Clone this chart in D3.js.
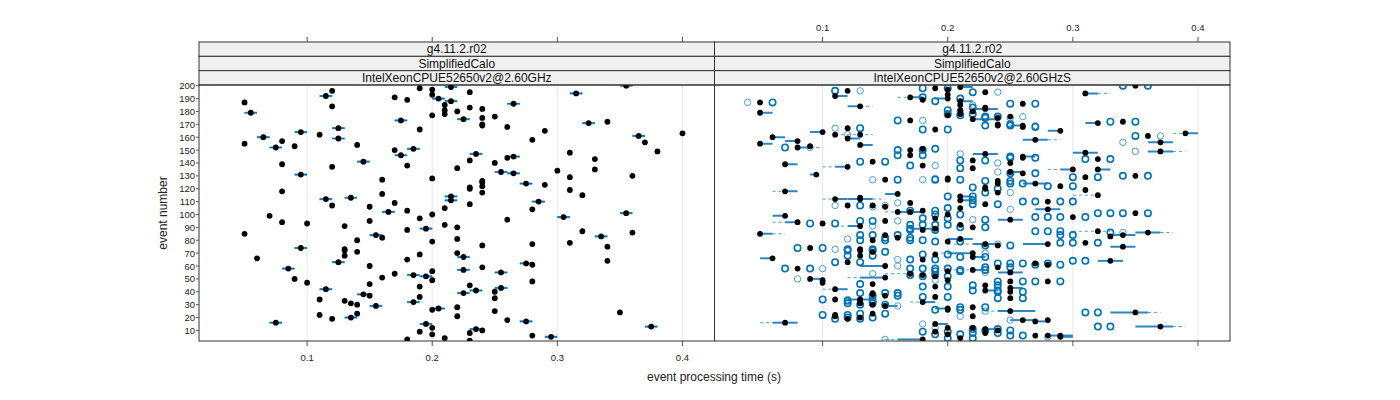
<!DOCTYPE html>
<html>
<head>
<meta charset="utf-8">
<script src="https://cdn.jsdelivr.net/npm/d3@7"></script>
<style>
  body { margin: 0; background: #fff; }
  text { font-family: "Liberation Sans", Arial, sans-serif; }
</style>
</head>
<body>
<svg id="chart" width="1400" height="400"></svg>
<script>
// strip labels (3 levels) per panel
const stripLevels = ["g4.11.2.r02", "SimplifiedCalo"];
const panelNames = ["IntelXeonCPUE52650v2@2.60GHz", "IntelXeonCPUE52650v2@2.60GHzS"];
const xTicks = [0.1, 0.2, 0.3, 0.4];
const yTicks = d3.range(10, 201, 10);

// left panel: [event, mean time, has range bar]
const leftPoints = [
  [200,0.355,1],[199,0.215,1],[198,0.19,0],[197,0.20,0],[196,0.12,0],[195,0.23,0],[194,0.315,1],[193,0.20,0],
  [192,0.115,1],[191,0.17,0],[190,0.205,1],[189,0.18,0],[188,0.215,1],[187,0.05,0],[186,0.265,1],[185,0.21,0],
  [184,0.12,0],[183,0.23,0],[182,0.24,0],[181,0.21,0],[180,0.22,0],[179,0.055,1],[178,0.21,0],[177,0.20,0],
  [176,0.25,0],[175,0.24,0],[174,0.225,1],[173,0.175,1],[172,0.34,0],[171,0.325,1],[170,0.24,0],[169,0.24,0],
  [168,0.26,0],[167,0.125,1],[166,0.19,0],[165,0.29,0],[164,0.095,1],[163,0.40,0],[162,0.11,0],[161,0.365,1],
  [160,0.065,1],[159,0.125,1],[158,0.28,0],[157,0.08,0],[156,0.37,0],[155,0.05,0],[154,0.14,0],[153,0.09,0],
  [152,0.075,1],[151,0.185,1],[150,0.17,0],[149,0.38,0],[148,0.31,0],[147,0.235,1],[146,0.175,1],[145,0.265,1],
  [144,0.26,0],[143,0.33,0],[142,0.23,0],[141,0.145,1],[140,0.25,0],[139,0.08,0],[138,0.18,0],[137,0.12,0],
  [136,0.22,0],[135,0.33,0],[134,0.30,0],[133,0.255,1],[132,0.265,1],[131,0.095,1],[130,0.36,0],[129,0.31,0],
  [128,0.20,0],[127,0.16,0],[126,0.24,0],[125,0.24,0],[124,0.275,1],[123,0.29,0],[122,0.24,0],[121,0.23,0],
  [120,0.23,0],[119,0.31,0],[118,0.08,0],[117,0.24,0],[116,0.16,0],[115,0.32,0],[114,0.215,1],[113,0.135,1],
  [112,0.115,1],[111,0.215,1],[110,0.285,1],[109,0.17,0],[108,0.23,0],[107,0.12,0],[106,0.15,0],[105,0.21,0],
  [104,0.28,0],[103,0.18,0],[102,0.165,1],[101,0.355,1],[100,0.20,0],[99,0.07,0],[98,0.305,1],[97,0.19,0],
  [96,0.26,0],[95,0.15,0],[94,0.08,0],[93,0.10,0],[92,0.21,0],[91,0.13,0],[90,0.22,0],[89,0.195,1],
  [88,0.18,0],[87,0.32,0],[86,0.36,0],[85,0.05,0],[84,0.155,1],[83,0.335,1],[82,0.16,0],[81,0.22,0],
  [80,0.14,0],[79,0.20,0],[78,0.31,0],[77,0.28,0],[76,0.24,0],[75,0.34,0],[74,0.095,1],[73,0.13,0],
  [72,0.13,0],[71,0.14,0],[70,0.22,0],[69,0.19,0],[68,0.13,0],[67,0.225,1],[66,0.06,0],[65,0.18,0],
  [64,0.34,0],[63,0.125,1],[62,0.275,1],[61,0.28,0],[60,0.15,0],[59,0.24,0],[58,0.085,1],[57,0.225,1],
  [56,0.20,0],[55,0.255,1],[54,0.17,0],[53,0.185,1],[52,0.195,1],[51,0.16,0],[50,0.09,0],[49,0.20,0],
  [48,0.28,0],[47,0.10,0],[46,0.15,0],[45,0.23,0],[44,0.19,0],[43,0.255,1],[42,0.115,1],[41,0.235,1],
  [40,0.25,0],[39,0.225,1],[38,0.145,1],[37,0.15,0],[36,0.19,0],[35,0.25,0],[34,0.11,0],[33,0.13,0],
  [32,0.185,1],[31,0.135,0],[30,0.14,0],[29,0.155,1],[28,0.22,0],[27,0.205,1],[26,0.20,0],[25,0.25,0],
  [24,0.35,0],[23,0.14,0],[22,0.11,0],[21,0.22,0],[20,0.135,1],[19,0.12,0],[18,0.26,0],[17,0.275,1],
  [16,0.075,1],[15,0.195,1],[13,0.375,1],[12,0.20,0],[11,0.235,1],[10,0.24,0],[9,0.19,0],[8,0.23,0],
  [7,0.20,0],[6,0.28,0],[5,0.295,1],[4,0.21,0],[3,0.18,0],[2,0.23,0]
];

// right panel: black dots [event, time]
const rightDots = [
  [200,0.35],[199,0.21],[198,0.19],[197,0.20],[196,0.12],[195,0.23],[194,0.31],[193,0.20],[192,0.11],[191,0.17],
  [190,0.20],[189,0.18],[188,0.21],[187,0.05],[186,0.26],[185,0.21],[184,0.13],[183,0.23],[182,0.23],[181,0.21],
  [180,0.22],[179,0.05],[178,0.21],[177,0.20],[176,0.25],[175,0.24],[174,0.22],[173,0.17],[172,0.34],[171,0.32],
  [170,0.24],[169,0.24],[169,0.26],[168,0.26],[167,0.12],[166,0.19],[165,0.29],[164,0.10],[163,0.39],[162,0.11],
  [162,0.13],[161,0.36],[160,0.06],[159,0.12],[158,0.27],[157,0.08],[156,0.37],[155,0.05],[154,0.13],[153,0.09],
  [152,0.08],[151,0.18],[150,0.17],[149,0.37],[148,0.31],[147,0.23],[146,0.17],[145,0.26],[144,0.26],[143,0.32],
  [142,0.22],[141,0.14],[140,0.25],[139,0.07],[138,0.18],[137,0.12],[136,0.22],[135,0.32],[135,0.30],[133,0.25],
  [132,0.26],[131,0.095],[130,0.35],[129,0.31],[128,0.20],[127,0.15],[127,0.20],[126,0.24],[124,0.24],[124,0.27],
  [122,0.29],[121,0.23],[120,0.23],[119,0.31],[118,0.07],[117,0.24],[116,0.16],[115,0.32],[114,0.21],[113,0.13],
  [112,0.11],[112,0.13],[111,0.21],[110,0.28],[109,0.17],[108,0.23],[107,0.12],[107,0.14],[106,0.15],[105,0.21],
  [104,0.28],[103,0.18],[102,0.16],[102,0.17],[101,0.35],[100,0.20],[99,0.07],[98,0.30],[97,0.19],[96,0.25],
  [95,0.15],[94,0.08],[93,0.10],[92,0.21],[91,0.13],[90,0.22],[89,0.19],[88,0.18],[87,0.32],[86,0.36],
  [85,0.05],[84,0.15],[84,0.34],[83,0.33],[82,0.16],[81,0.21],[80,0.14],[79,0.20],[78,0.31],[77,0.28],
  [77,0.23],[76,0.24],[75,0.34],[74,0.09],[73,0.13],[72,0.13],[71,0.14],[70,0.22],[69,0.19],[68,0.13],
  [67,0.22],[66,0.06],[65,0.18],[64,0.33],[63,0.12],[62,0.27],[61,0.28],[60,0.15],[59,0.24],[58,0.08],
  [57,0.22],[56,0.20],[55,0.25],[54,0.17],[53,0.18],[52,0.19],[51,0.15],[50,0.09],[49,0.10],[49,0.20],
  [48,0.28],[48,0.25],[47,0.10],[46,0.14],[45,0.23],[44,0.19],[43,0.25],[42,0.11],[41,0.23],[40,0.25],
  [39,0.14],[38,0.14],[37,0.15],[36,0.19],[35,0.25],[34,0.11],[34,0.13],[33,0.13],[32,0.18],[31,0.13],
  [30,0.14],[29,0.15],[28,0.22],[27,0.20],[26,0.20],[25,0.25],[24,0.35],[23,0.14],[22,0.11],[21,0.22],
  [21,0.11],[20,0.13],[19,0.12],[18,0.26],[18,0.28],[17,0.27],[16,0.07],[15,0.19],[13,0.37],[12,0.20],
  [12,0.22],[11,0.23],[10,0.24],[9,0.19],[8,0.23],[7,0.20],[6,0.28],[6,0.27],[6,0.29],[5,0.29],[4,0.21],[3,0.18]
];

// right panel: dark open circles [event, time]
const rightRingsDark = [
  [200,0.34],[200,0.36],[198,0.18],[198,0.20],[196,0.11],[195,0.22],[191,0.18],[187,0.06],[186,0.25],[186,0.27],
  [178,0.20],[178,0.22],[176,0.23],[176,0.24],[173,0.16],[172,0.33],[172,0.35],[169,0.23],[169,0.25],[167,0.13],
  [166,0.18],[166,0.20],[161,0.35],[152,0.07],[150,0.16],[150,0.18],[146,0.16],[146,0.18],[144,0.25],[144,0.27],
  [143,0.31],[143,0.33],[141,0.13],[141,0.15],[138,0.17],[132,0.25],[132,0.27],[130,0.34],[130,0.36],[129,0.30],
  [129,0.32],[127,0.16],[127,0.19],[127,0.21],[124,0.25],[124,0.26],[122,0.28],[122,0.30],[110,0.26],[110,0.27],
  [110,0.29],[110,0.30],[107,0.13],[101,0.32],[101,0.33],[101,0.34],[101,0.36],[98,0.27],[98,0.28],[98,0.29],
  [98,0.31],[96,0.23],[95,0.13],[95,0.14],[93,0.09],[93,0.11],[92,0.17],[92,0.18],[92,0.19],[92,0.20],
  [89,0.17],[87,0.27],[87,0.28],[87,0.29],[86,0.33],[84,0.13],[84,0.14],[84,0.16],[84,0.29],[84,0.30],
  [80,0.13],[80,0.15],[80,0.17],[80,0.18],[78,0.29],[78,0.30],[78,0.32],[74,0.08],[74,0.10],[73,0.12],
  [73,0.14],[71,0.15],[65,0.17],[65,0.19],[64,0.30],[64,0.31],[63,0.11],[63,0.13],[62,0.24],[62,0.25],
  [62,0.26],[62,0.28],[58,0.07],[58,0.09],[58,0.17],[58,0.18],[58,0.19],[58,0.20],[48,0.24],[48,0.26],
  [48,0.27],[48,0.29],[46,0.13],[39,0.13],[39,0.15],[39,0.16],[35,0.24],[35,0.26],[34,0.10],[24,0.31],
  [24,0.32],[22,0.10],[22,0.12],[13,0.32],[13,0.33],[6,0.25],[6,0.26],
  [190,0.21],[188,0.19],[183,0.22],[181,0.20],[177,0.21],[175,0.23],[170,0.25],[168,0.27],[151,0.19],[145,0.25],
  [142,0.21],[142,0.23],[136,0.21],[126,0.23],[126,0.25],[121,0.22],[120,0.24],[117,0.23],[114,0.20],[114,0.22],
  [111,0.22],[108,0.22],[108,0.24],[105,0.20],[103,0.17],[103,0.19],[100,0.19],[100,0.21],[97,0.18],[97,0.20],
  [90,0.21],[90,0.23],[88,0.17],[88,0.19],[82,0.15],[82,0.17],[79,0.19],[79,0.21],[76,0.23],[76,0.25],
  [72,0.12],[72,0.14],[69,0.18],[69,0.20],[68,0.12],[68,0.14],[67,0.21],[67,0.23],[61,0.27],[61,0.29],
  [59,0.23],[59,0.25],[57,0.21],[57,0.23],[56,0.19],[56,0.21],[53,0.17],[53,0.19],[52,0.18],[52,0.20],
  [45,0.22],[45,0.24],[44,0.18],[44,0.20],[41,0.22],[41,0.24],[40,0.24],[40,0.26],[37,0.14],[37,0.16],
  [36,0.18],[36,0.20],[33,0.12],[33,0.14],[31,0.12],[31,0.14],[30,0.13],[30,0.15],[28,0.21],[28,0.23],
  [26,0.19],[26,0.21],[23,0.13],[23,0.15],[20,0.12],[20,0.14],[19,0.11],[19,0.13],[11,0.22],[11,0.24],
  [10,0.23],[10,0.25],[9,0.18],[9,0.20],[8,0.22],[8,0.24],[7,0.19],[7,0.21],[4,0.20],[4,0.22]
];

// right panel: light open circles [event, time]
const rightRingsLight = [
  [196,0.13],[195,0.24],[187,0.04],[176,0.26],[173,0.18],[169,0.27],[167,0.11],[162,0.12],[161,0.37],[156,0.34],
  [152,0.09],[149,0.35],[138,0.19],[127,0.14],[127,0.18],[107,0.11],[107,0.15],[104,0.25],[96,0.22],[81,0.12],
  [77,0.24],[73,0.11],[65,0.16],[58,0.10],[54,0.14],[50,0.08],[34,0.12],[3,0.15],
  [185,0.22],[180,0.21],[175,0.25],[147,0.21],[140,0.24],[133,0.24],[128,0.19],[117,0.25],[109,0.16],[106,0.14],
  [95,0.16],[91,0.14],[86,0.34],[70,0.23],[60,0.16],[55,0.23],[49,0.19],[43,0.24],[29,0.16],[25,0.23],
  [21,0.21],[18,0.25],[15,0.18],[12,0.19],[5,0.28]
];

// right panel: solid blue segments [event, lo, hi]
const rightSolid = [
  [199,0.21,0.22],[194,0.31,0.32],[192,0.11,0.12],[191,0.17,0.18],[190,0.19,0.20],[188,0.21,0.22],[184,0.12,0.13],
  [182,0.22,0.24],[179,0.05,0.06],[174,0.22,0.24],[171,0.31,0.32],[169,0.25,0.26],[165,0.28,0.29],[164,0.09,0.10],
  [163,0.39,0.40],[160,0.06,0.07],[159,0.12,0.13],[158,0.26,0.28],[157,0.07,0.08],[156,0.36,0.38],[155,0.05,0.06],
  [154,0.13,0.14],[152,0.08,0.09],[149,0.36,0.38],[148,0.30,0.32],[147,0.22,0.24],[145,0.26,0.27],[139,0.07,0.08],
  [137,0.11,0.12],[135,0.32,0.33],[135,0.29,0.30],[133,0.25,0.26],[131,0.09,0.095],[124,0.26,0.28],[118,0.07,0.08],
  [116,0.15,0.16],[114,0.21,0.22],[112,0.11,0.12],[112,0.12,0.14],[111,0.21,0.22],[104,0.27,0.29],[102,0.16,0.18],
  [99,0.06,0.07],[96,0.24,0.26],[94,0.07,0.08],[91,0.12,0.13],[89,0.17,0.19],[86,0.35,0.37],[85,0.05,0.06],
  [84,0.33,0.35],[81,0.20,0.22],[77,0.26,0.28],[77,0.22,0.24],[75,0.33,0.35],[70,0.20,0.22],[67,0.22,0.23],
  [66,0.05,0.06],[64,0.32,0.34],[60,0.13,0.15],[57,0.22,0.23],[55,0.24,0.26],[51,0.13,0.15],[50,0.09,0.10],
  [43,0.25,0.26],[42,0.11,0.12],[41,0.23,0.24],[34,0.12,0.14],[32,0.18,0.19],[29,0.15,0.16],[27,0.19,0.20],
  [25,0.24,0.27],[24,0.33,0.36],[18,0.25,0.27],[17,0.27,0.28],[16,0.06,0.08],[15,0.19,0.20],[13,0.35,0.38],
  [11,0.23,0.24],[6,0.28,0.30],[5,0.29,0.30],[3,0.16,0.18]
];

// right panel: dashed blue segments [event, lo, hi]
const rightDashed = [
  [194,0.32,0.33],[191,0.16,0.17],[184,0.13,0.14],[163,0.38,0.39],[162,0.11,0.14],[152,0.09,0.10],[137,0.10,0.11],
  [118,0.06,0.07],[115,0.30,0.32],[112,0.10,0.11],[112,0.14,0.15],[94,0.06,0.07],[91,0.11,0.12],[87,0.30,0.33],
  [85,0.06,0.07],[77,0.20,0.22],[54,0.15,0.17],[51,0.12,0.13],[42,0.10,0.11],[25,0.23,0.24],[24,0.36,0.37],
  [16,0.05,0.06],[13,0.38,0.39],[3,0.15,0.16],[86,0.37,0.38],[135,0.28,0.29],[158,0.28,0.29],[149,0.38,0.39],
  [102,0.15,0.16],[70,0.19,0.20],[57,0.20,0.22],[32,0.17,0.18]
];

const svg = d3.select("#chart");

const panelW = 515.5;
const panelX = [199, 714.5];
const plotTop = 85, plotBottom = 341;
const stripTop = 42, stripH = (plotTop - stripTop) / 3;

const x = d3.scaleLinear().domain([0.0136, 0.4256]).range([0, panelW]);
const y = d3.scaleLinear().domain([1.78, 200.54]).range([plotBottom, plotTop]);

const darkBlue = "#0072b2";
const lightBlue = "#4a9fd4";

svg.append("defs").selectAll("clipPath")
  .data(panelX)
  .join("clipPath")
  .attr("id", (d, i) => "clip" + i)
  .append("rect")
  .attr("x", 0).attr("y", plotTop)
  .attr("width", panelW).attr("height", plotBottom - plotTop);

panelX.forEach((px, i) => {
  const g = svg.append("g").attr("transform", `translate(${px},0)`);

  // light vertical grid lines
  g.selectAll("line.grid")
    .data(xTicks)
    .join("line")
    .attr("class", "grid")
    .attr("x1", d => x(d)).attr("x2", d => x(d))
    .attr("y1", plotTop).attr("y2", plotBottom)
    .attr("stroke", "#e8e8e8").attr("stroke-width", 1);

  // strips
  const strips = [stripLevels[0], stripLevels[1], panelNames[i]];
  strips.forEach((label, k) => {
    g.append("rect")
      .attr("x", 0).attr("y", stripTop + k * stripH)
      .attr("width", panelW).attr("height", stripH)
      .attr("fill", "#f0f0f0").attr("stroke", "#333").attr("stroke-width", 1);
    g.append("text")
      .attr("x", panelW / 2).attr("y", stripTop + k * stripH + stripH / 2 + 4.3)
      .attr("text-anchor", "middle")
      .attr("font-size", 12)
      .attr("fill", "#111")
      .text(label);
  });

  // top and bottom tick marks
  g.selectAll("line.ttick")
    .data(xTicks)
    .join("line")
    .attr("x1", d => x(d)).attr("x2", d => x(d))
    .attr("y1", stripTop - 5).attr("y2", stripTop)
    .attr("stroke", "#555");
  g.selectAll("line.btick")
    .data(xTicks)
    .join("line")
    .attr("x1", d => x(d)).attr("x2", d => x(d))
    .attr("y1", plotBottom).attr("y2", plotBottom + 5)
    .attr("stroke", "#555");

  const plot = g.append("g").attr("clip-path", `url(#clip${i})`);

  if (i === 0) {
    // range bars
    plot.selectAll("line.bar")
      .data(leftPoints.filter(d => d[2]))
      .join("line")
      .attr("x1", d => x(d[1] - 0.005)).attr("x2", d => x(d[1] + 0.005))
      .attr("y1", d => y(d[0])).attr("y2", d => y(d[0]))
      .attr("stroke", "#3a93cf").attr("stroke-width", 2.2);
    plot.selectAll("line.bar2")
      .data(leftPoints.filter(d => d[2]))
      .join("line")
      .attr("x1", d => x(d[1] - 0.005)).attr("x2", d => x(d[1] + 0.005))
      .attr("y1", d => y(d[0])).attr("y2", d => y(d[0]))
      .attr("stroke", darkBlue).attr("stroke-width", 1);
    plot.selectAll("circle.dot")
      .data(leftPoints)
      .join("circle")
      .attr("cx", d => x(d[1])).attr("cy", d => y(d[0]))
      .attr("r", 2.9).attr("fill", "#000");
  } else {
    plot.selectAll("line.dash")
      .data(rightDashed)
      .join("line")
      .attr("x1", d => x(d[1])).attr("x2", d => x(d[2]))
      .attr("y1", d => y(d[0])).attr("y2", d => y(d[0]))
      .attr("stroke", lightBlue).attr("stroke-width", 1)
      .attr("stroke-dasharray", "3,3");
    plot.selectAll("line.solid")
      .data(rightSolid)
      .join("line")
      .attr("x1", d => x(d[1])).attr("x2", d => x(d[2]))
      .attr("y1", d => y(d[0])).attr("y2", d => y(d[0]))
      .attr("stroke", "#2a86c4").attr("stroke-width", 2);
    plot.selectAll("circle.light")
      .data(rightRingsLight)
      .join("circle")
      .attr("cx", d => x(d[1])).attr("cy", d => y(d[0]))
      .attr("r", 3.2).attr("fill", "none")
      .attr("stroke", lightBlue).attr("stroke-width", 1);
    plot.selectAll("circle.dark")
      .data(rightRingsDark)
      .join("circle")
      .attr("cx", d => x(d[1])).attr("cy", d => y(d[0]))
      .attr("r", 3.2).attr("fill", "none")
      .attr("stroke", darkBlue).attr("stroke-width", 1.6);
    plot.selectAll("circle.dot")
      .data(rightDots)
      .join("circle")
      .attr("cx", d => x(d[1])).attr("cy", d => y(d[0]))
      .attr("r", 2.9).attr("fill", "#000");
  }

  // panel border
  g.append("rect")
    .attr("x", 0).attr("y", plotTop)
    .attr("width", panelW).attr("height", plotBottom - plotTop)
    .attr("fill", "none").attr("stroke", "#333").attr("stroke-width", 1);
});

// bottom labels for left panel, top labels for right panel
svg.append("g").selectAll("text")
  .data(xTicks)
  .join("text")
  .attr("x", d => panelX[0] + x(d)).attr("y", 361)
  .attr("text-anchor", "middle").attr("font-size", 9.5).attr("fill", "#222")
  .text(d => d);
svg.append("g").selectAll("text")
  .data(xTicks)
  .join("text")
  .attr("x", d => panelX[1] + x(d)).attr("y", 31)
  .attr("text-anchor", "middle").attr("font-size", 9.5).attr("fill", "#222")
  .text(d => d);

// y axis
const yAxis = svg.append("g");
yAxis.selectAll("line")
  .data(yTicks)
  .join("line")
  .attr("x1", panelX[0] - 3).attr("x2", panelX[0])
  .attr("y1", d => y(d)).attr("y2", d => y(d))
  .attr("stroke", "#555");
yAxis.selectAll("text")
  .data(yTicks)
  .join("text")
  .attr("x", panelX[0] - 4).attr("y", d => y(d) + 3.5)
  .attr("text-anchor", "end").attr("font-size", 9.5).attr("fill", "#222")
  .text(d => d);

svg.append("text")
  .attr("transform", `translate(167,213) rotate(-90)`)
  .attr("text-anchor", "middle").attr("font-size", 12).attr("fill", "#222")
  .text("event number");

svg.append("text")
  .attr("x", 714).attr("y", 381)
  .attr("text-anchor", "middle").attr("font-size", 12).attr("fill", "#222")
  .text("event processing time (s)");
</script>
</body>
</html>
